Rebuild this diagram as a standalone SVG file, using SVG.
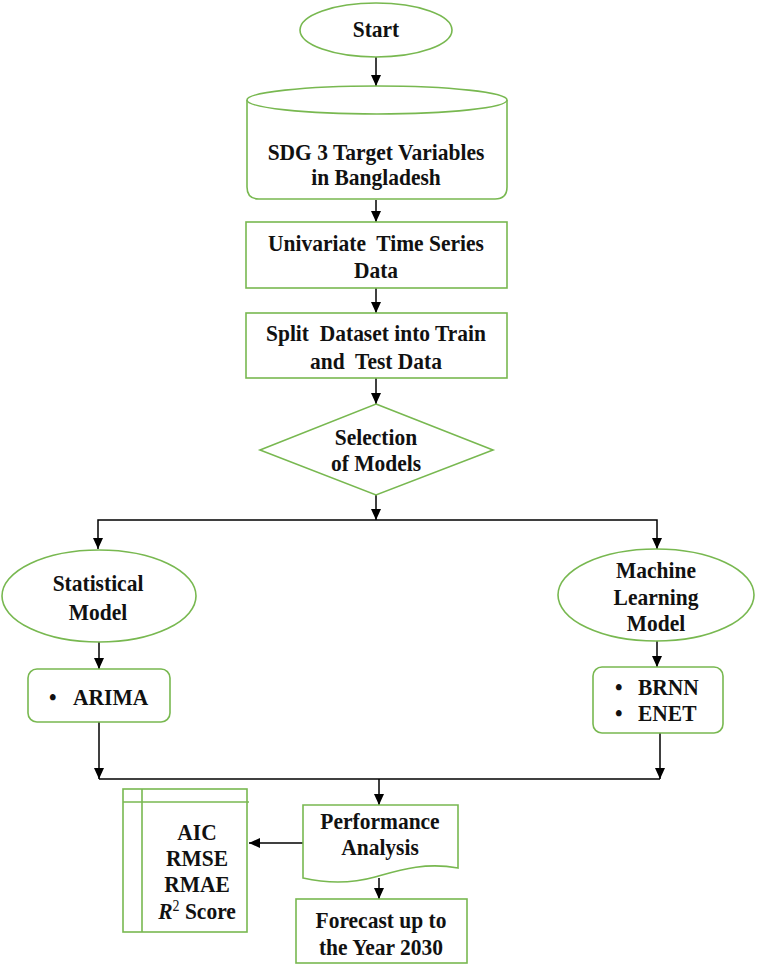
<svg xmlns="http://www.w3.org/2000/svg" width="757" height="966" viewBox="0 0 757 966">
<defs>
<marker id="ah" markerUnits="userSpaceOnUse" markerWidth="12" markerHeight="12" viewBox="0 0 12 12" refX="11" refY="6" orient="auto">
<path d="M0,1 L11,6 L0,11 Z" fill="#000"/>
</marker>
</defs>
<style>
.n{fill:#fff;stroke:#78b850;stroke-width:1.6}
.c{fill:none;stroke:#000;stroke-width:1.5}
.a{marker-end:url(#ah)}
text{font-family:"Liberation Serif","Times New Roman",serif;font-weight:bold;font-size:21.5px;fill:#111}
.m{text-anchor:middle}
</style>
<rect width="757" height="966" fill="#fff"/>

<g id="connectors">
<line class="c a" x1="376" y1="57" x2="376" y2="86"/>
<line class="c a" x1="376" y1="200" x2="376" y2="222"/>
<line class="c a" x1="376" y1="288" x2="376" y2="313"/>
<line class="c a" x1="376" y1="378" x2="376" y2="404"/>
<line class="c a" x1="376" y1="495" x2="376" y2="520"/>
<polyline class="c a" points="377,520 98,520 98,549"/>
<polyline class="c a" points="377,520 657,520 657,549"/>
<line class="c a" x1="99" y1="642" x2="99" y2="669"/>
<line class="c a" x1="657" y1="641" x2="657" y2="667"/>
<line class="c a" x1="99" y1="722" x2="99" y2="779"/>
<line class="c a" x1="660" y1="733" x2="660" y2="779"/>
<line class="c" x1="99" y1="779" x2="660" y2="779"/>
<line class="c a" x1="379" y1="779" x2="379" y2="805"/>
<line class="c a" x1="303" y1="843" x2="249" y2="843"/>
<line class="c a" x1="379" y1="878" x2="379" y2="899"/>
</g>

<g id="start">
<ellipse class="n" cx="376" cy="30" rx="76" ry="27"/>
<text class="m" transform="translate(376,37) scale(1,1.12)">Start</text>
</g>

<g id="sdg3">
<path class="n" d="M247,100 V187 Q247,199 259,199 H495 Q507,199 507,187 V100"/>
<ellipse class="n" cx="377" cy="100" rx="130" ry="14"/>
<text class="m" transform="translate(376,160) scale(1,1.12)">SDG 3 Target Variables</text>
<text class="m" transform="translate(376,185) scale(1,1.12)">in Bangladesh</text>
</g>

<g id="univariate">
<rect class="n" x="246" y="222" width="261" height="66"/>
<text class="m" transform="translate(376,251) scale(1,1.12)">Univariate&#160; Time Series</text>
<text class="m" transform="translate(376,278) scale(1,1.12)">Data</text>
</g>

<g id="split">
<rect class="n" x="246" y="313" width="261" height="65"/>
<text class="m" transform="translate(376,341) scale(1,1.12)">Split&#160; Dataset into Train</text>
<text class="m" transform="translate(376,369) scale(1,1.12)">and&#160; Test Data</text>
</g>

<g id="selection">
<polygon class="n" points="376,404 493,450 376,495 260,450"/>
<text class="m" transform="translate(376,445) scale(1,1.12)">Selection</text>
<text class="m" transform="translate(376,471) scale(1,1.12)">of Models</text>
</g>

<g id="statistical">
<ellipse class="n" cx="99" cy="596" rx="97" ry="46"/>
<text class="m" transform="translate(98,591) scale(1,1.12)">Statistical</text>
<text class="m" transform="translate(98,620) scale(1,1.12)">Model</text>
</g>

<g id="ml">
<ellipse class="n" cx="656" cy="595" rx="98" ry="46"/>
<text class="m" transform="translate(656,578) scale(1,1.12)">Machine</text>
<text class="m" transform="translate(656,605) scale(1,1.12)">Learning</text>
<text class="m" transform="translate(656,631) scale(1,1.12)">Model</text>
</g>

<g id="arima">
<rect class="n" x="28" y="669" width="142" height="53" rx="9"/>
<text transform="translate(49,705) scale(1,1.12)">•</text>
<text transform="translate(73,705) scale(1,1.12)">ARIMA</text>
</g>

<g id="brnn-enet">
<rect class="n" x="593" y="667" width="130" height="66" rx="9"/>
<text transform="translate(615,695) scale(1,1.12)">•</text>
<text transform="translate(638,695) scale(1,1.12)">BRNN</text>
<text transform="translate(615,721) scale(1,1.12)">•</text>
<text transform="translate(638,721) scale(1,1.12)">ENET</text>
</g>

<g id="performance">
<path class="n" d="M303,805 H458 V868 C425,862 400,870 375,877 C350,884 325,883 303,878 Z"/>
<text class="m" transform="translate(380,829) scale(1,1.12)">Performance</text>
<text class="m" transform="translate(380,855) scale(1,1.12)">Analysis</text>
</g>

<g id="metrics">
<rect class="n" x="123" y="789" width="124" height="143"/>
<line class="n" x1="142" y1="789" x2="142" y2="932"/>
<line class="n" x1="123" y1="802" x2="249" y2="802"/>
<text class="m" transform="translate(197,840) scale(1,1.12)">AIC</text>
<text class="m" transform="translate(197,866) scale(1,1.12)">RMSE</text>
<text class="m" transform="translate(197,892) scale(1,1.12)">RMAE</text>
<text class="m" transform="translate(197,919) scale(1,1.12)"><tspan font-style="italic">R</tspan><tspan font-size="14" font-weight="normal" dy="-7">2</tspan><tspan dy="7"> Score</tspan></text>
</g>

<g id="forecast">
<rect class="n" x="296" y="899" width="171" height="64"/>
<text class="m" transform="translate(381,928) scale(1,1.12)">Forecast up to</text>
<text class="m" transform="translate(381,955) scale(1,1.12)">the Year 2030</text>
</g>
</svg>
